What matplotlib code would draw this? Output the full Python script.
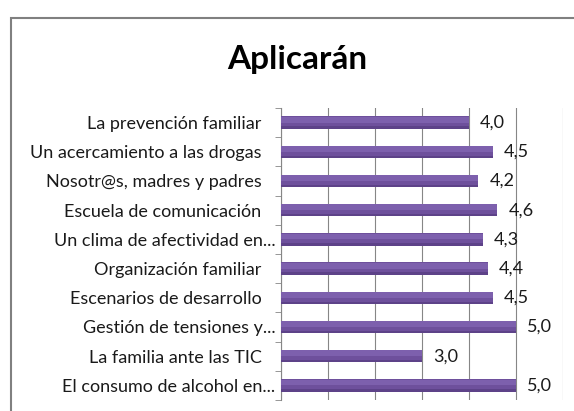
import matplotlib
matplotlib.use("Agg")
import matplotlib.pyplot as plt
from matplotlib.patches import Rectangle

plt.rcParams['font.family'] = ['Lato', 'DejaVu Sans']

# datos del gráfico (de arriba hacia abajo)
categorias = [
    "La prevención familiar   ",
    "Un acercamiento a las drogas   ",
    "Nosotr@s, madres y padres   ",
    "Escuela de comunicación   ",
    "Un clima de afectividad en...",
    "Organización familiar   ",
    "Escenarios de desarrollo   ",
    "Gestión de tensiones y...",
    "La familia ante las TIC   ",
    "El consumo de alcohol en...",
]
valores = [4.0, 4.5, 4.2, 4.6, 4.3, 4.4, 4.5, 5.0, 3.0, 5.0]
etiquetas = ["4,0", "4,5", "4,2", "4,6", "4,3", "4,4", "4,5", "5,0", "3,0", "5,0"]

W, H = 574, 411
fig = plt.figure(figsize=(W / 100, H / 100), dpi=100)

# marco del gráfico (se sale de la imagen por la derecha y abajo)
fig.patches.append(Rectangle((11 / W, -0.1), 1.2, 1 - 18 / H + 0.1,
                             transform=fig.transFigure, fill=False,
                             edgecolor='#808080', linewidth=1.5))

ax = fig.add_axes([281 / W, 1 - 400 / H, (563 - 281) / W, (400 - 108) / H])

n = len(categorias)
pos = list(range(n))
ax.barh(pos, valores, height=0.42, color='#6e509c', zorder=3)
ax.barh([p - 0.1 for p in pos], valores, height=0.2, color='#7d60ad', zorder=4)
ax.barh([p + 0.17 for p in pos], valores, height=0.08, color='#5d4288', zorder=4)
ax.set_ylim(n - 0.5, -0.5)
ax.set_xlim(0, 6)

for p, v, t in zip(pos, valores, etiquetas):
    ax.annotate(t, (v, p), xytext=(8, 0), textcoords='offset points',
                va='center', ha='left', fontsize=13, color='#1a1a1a')

ax.set_yticks(pos)
ax.set_yticklabels(categorias, fontsize=13, color='#1a1a1a')
ax.set_yticks([p + 0.5 for p in [-1] + pos], minor=True)
ax.tick_params(axis='y', which='major', length=0, pad=4)
ax.tick_params(axis='y', which='minor', length=4, color='#868686')
ax.set_xticks(range(0, 7))
ax.tick_params(axis='x', length=0, labelbottom=False)
ax.grid(axis='x', color='#868686', linewidth=0.8, zorder=0)

for s in ['top', 'right', 'bottom']:
    ax.spines[s].set_visible(False)
ax.spines['left'].set_color('#868686')

fig.text(297 / W, 1 - 60 / H, "Aplicarán", ha='center', va='center',
         fontsize=24, fontweight='bold')

fig.savefig("out.png", dpi=100)
